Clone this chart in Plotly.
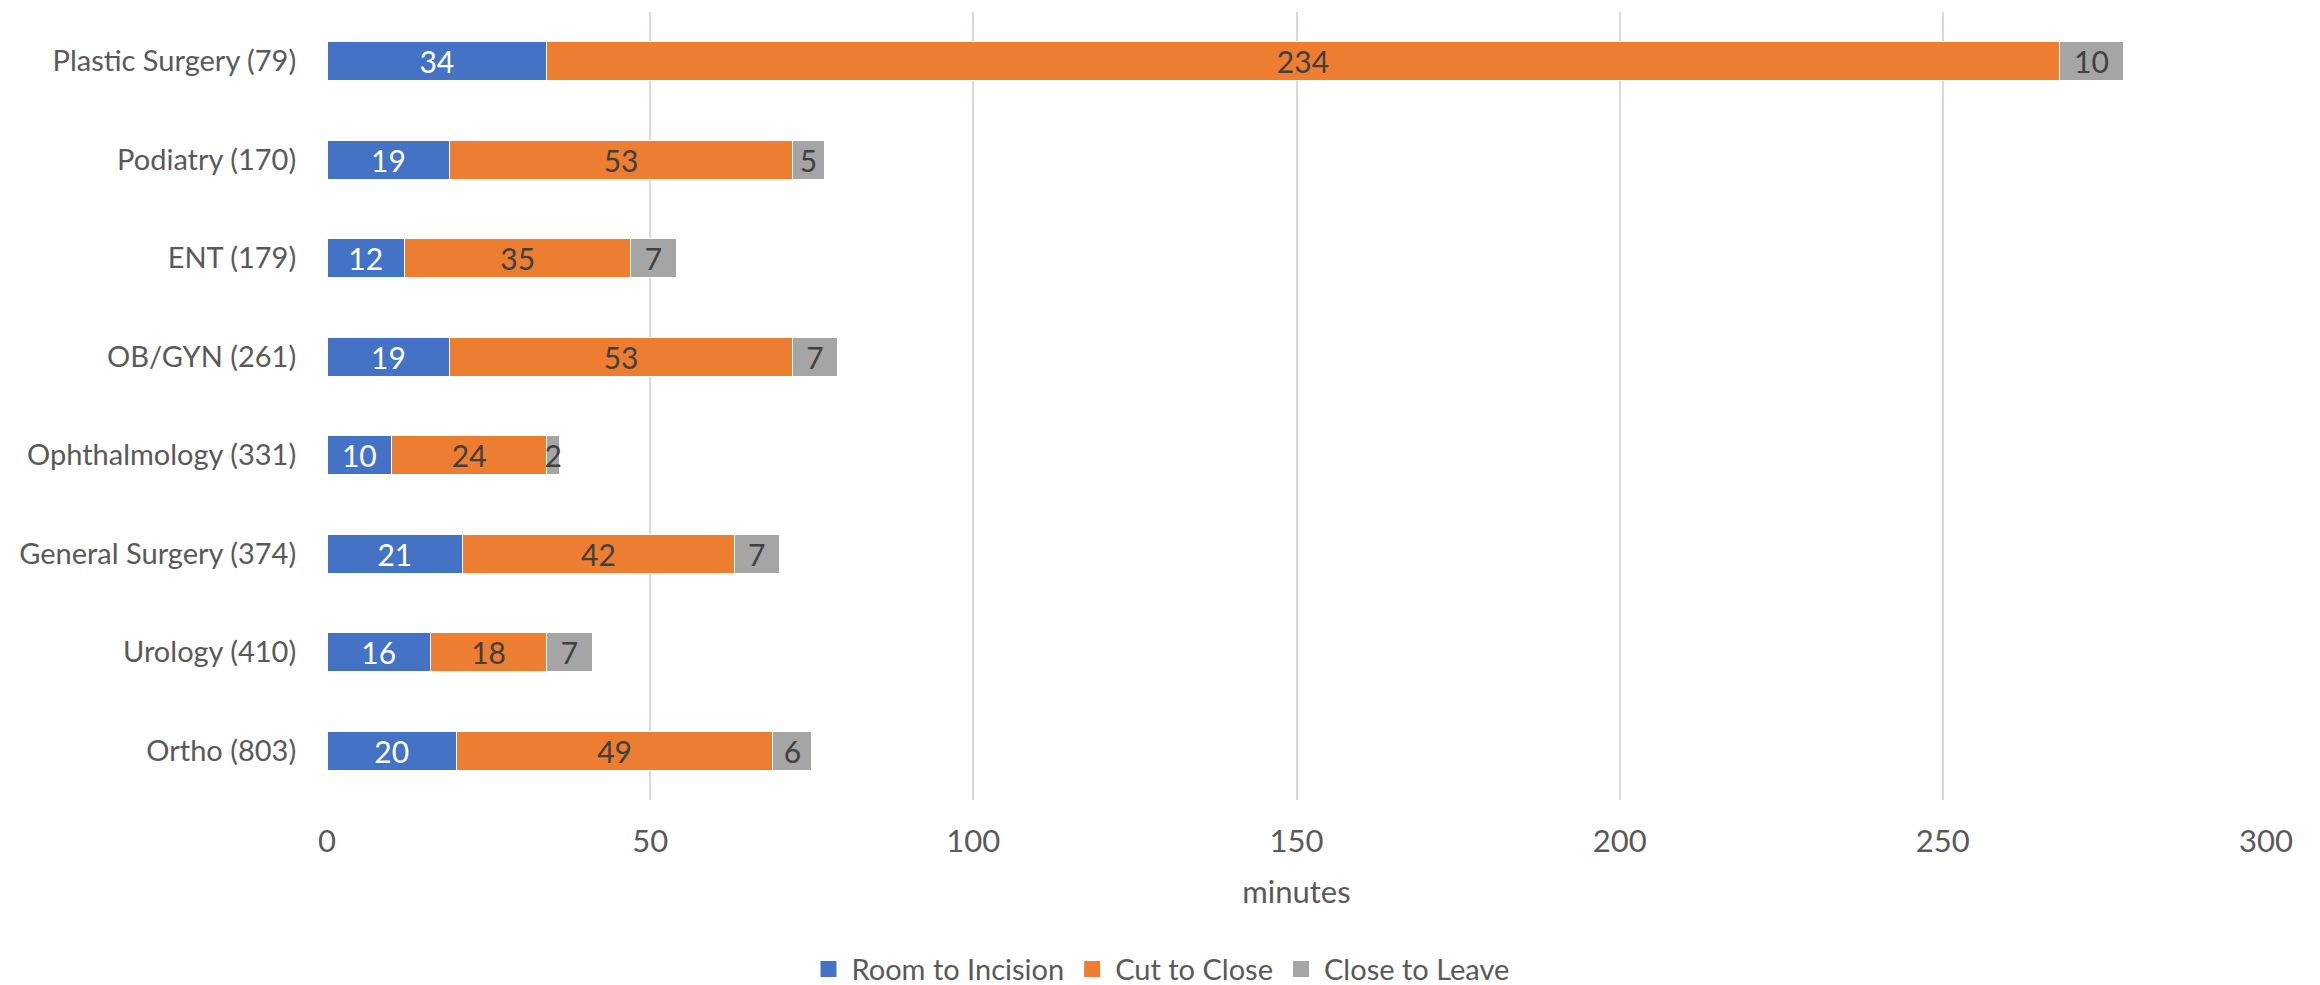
import plotly.graph_objects as go

# Specialties, top to bottom as listed on the chart
categories = [
    "Plastic Surgery (79)",
    "Podiatry (170)",
    "ENT (179)",
    "OB/GYN (261)",
    "Ophthalmology (331)",
    "General Surgery (374)",
    "Urology (410)",
    "Ortho (803)",
]

room_to_incision = [34, 19, 12, 19, 10, 21, 16, 20]
cut_to_close = [234, 53, 35, 53, 24, 42, 18, 49]
close_to_leave = [10, 5, 7, 7, 2, 7, 7, 6]

x_ticks = [0, 50, 100, 150, 200, 250, 300]

FONT = "Lato, Carlito, Calibri, sans-serif"
SIZE = 30

series = [
    ("Room to Incision", room_to_incision, "#4472C4", "#FFFFFF"),
    ("Cut to Close", cut_to_close, "#ED7D31", "#404040"),
    ("Close to Leave", close_to_leave, "#A5A5A5", "#404040"),
]

fig = go.Figure()
for name, vals, color, txtcolor in series:
    fig.add_trace(go.Bar(
        y=categories,
        x=vals,
        name=name,
        orientation="h",
        showlegend=False,
        legendgroup=name,
        marker=dict(color=color, line=dict(color="#FFFFFF", width=1)),
        text=[str(v) for v in vals],
        textposition="inside",
        insidetextanchor="middle",
        textangle=0,
        constraintext="none",
        textfont=dict(family=FONT, size=SIZE, color=txtcolor),
    ))

# Legend keys: larger square swatches than the default bar key
for name, _, color, _ in series:
    fig.add_trace(go.Scatter(
        x=[None],
        y=[None],
        mode="markers",
        name=name,
        legendgroup=name,
        marker=dict(symbol="square", size=16, color=color),
        hoverinfo="skip",
    ))

fig.update_layout(
    barmode="stack",
    bargap=0.6,
    width=2320,
    height=985,
    margin=dict(l=327, r=54, t=12, b=185),
    paper_bgcolor="white",
    plot_bgcolor="white",
    font=dict(family=FONT, size=SIZE, color="#595959"),
    uniformtext=dict(minsize=SIZE, mode="show"),
    legend=dict(
        orientation="h",
        xref="container",
        yref="container",
        x=0.5,
        xanchor="center",
        y=0.016,
        yanchor="middle",
        font=dict(family=FONT, size=29, color="#595959"),
        itemwidth=36,
        traceorder="normal",
    ),
    xaxis=dict(
        range=[0, 300],
        tickvals=x_ticks,
        showgrid=True,
        gridcolor="#D9D9D9",
        gridwidth=2,
        zeroline=False,
        showline=False,
        automargin=False,
        ticks="outside",
        ticklen=14,
        tickcolor="rgba(0,0,0,0)",
        tickfont=dict(family=FONT, size=31, color="#595959"),
        title=dict(text="minutes", font=dict(family=FONT, size=31, color="#595959"), standoff=23),
    ),
    yaxis=dict(
        categoryorder="array",
        categoryarray=categories[::-1],
        showgrid=False,
        zeroline=False,
        showline=False,
        automargin=False,
        ticks="outside",
        ticklen=24,
        tickcolor="rgba(0,0,0,0)",
        tickfont=dict(family=FONT, size=29, color="#595959"),
    ),
)

fig.write_html("out.html")
